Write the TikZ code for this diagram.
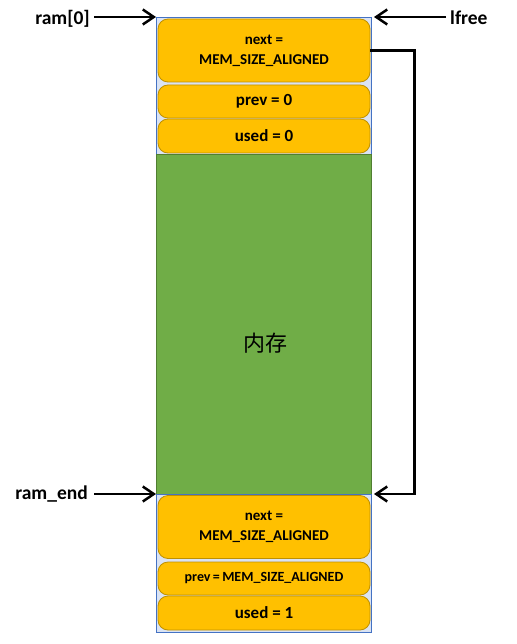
\documentclass[tikz,border=0pt]{standalone}
\usepackage{fontspec}
\setmainfont{Carlito}
\newfontfamily\cjk{Noto Sans CJK SC}
\usetikzlibrary{arrows.meta}
\definecolor{fieldfill}{HTML}{FFC000}
\definecolor{fielddraw}{HTML}{BF9000}
\definecolor{heapfill}{HTML}{70AD47}
\definecolor{heapdraw}{HTML}{507E32}
\definecolor{hdrfill}{HTML}{DAE3F3}
\definecolor{hdrdraw}{HTML}{4472C4}
\tikzset{
	hdr/.style={draw=hdrdraw, fill=hdrfill, line width=1pt, minimum width=215, anchor=north west, inner sep=0pt},
	field/.style={draw=fielddraw, fill=fieldfill, line width=.8pt, rounded corners=10pt, minimum width=212, inner sep=0pt, align=center, font=\bfseries},
	lbl/.style={inner sep=2pt, font=\fontsize{19.5}{20}\selectfont\bfseries},
	ptr/.style={line width=2.5pt, -{Straight Barb[length=11pt, width=15pt, line width=2.5pt]}}
}
\begin{document}
\begin{tikzpicture}[x=1pt, y=-1pt]
	\useasboundingbox (0,0) rectangle (516,644);
	% memory column
	\node[hdr, minimum height=137] (hdr0) at (156,17) {};
	\node[hdr, draw=heapdraw, fill=heapfill, minimum height=340] (heap) at (156,154) {};
	\node[hdr, minimum height=138] (hdr1) at (156,494) {};
	\node[font=\cjk\fontsize{22}{22}\selectfont] (heaptext) at (265,343) {内存};
	% first header
	\node[field, minimum height=63, font=\fontsize{15}{20}\selectfont\bfseries] (next0) at (264,50.5) {next =\\MEM\_SIZE\_ALIGNED};
	\node[field, minimum height=33, font=\fontsize{17}{17}\selectfont\bfseries] (prev0) at (264,101.5) {prev = 0};
	\node[field, minimum height=34, font=\fontsize{17}{17}\selectfont\bfseries] (used0) at (264,136) {used = 0};
	% end header
	\node[field, minimum height=63, font=\fontsize{15}{20}\selectfont\bfseries] (next1) at (264,527) {next =\\MEM\_SIZE\_ALIGNED};
	\node[field, minimum height=33, font=\fontsize{14}{14}\selectfont\bfseries] (prev1) at (264,578.5) {prev\,=\,MEM\_SIZE\_ALIGNED};
	\node[field, minimum height=34, font=\fontsize{17}{17}\selectfont\bfseries] (used1) at (264,613) {used = 1};
	% pointers
	\node[lbl, anchor=east] (ram0) at (92,19) {ram[0]};
	\node[lbl, anchor=west] (lfree) at (448,18) {lfree};
	\node[lbl, anchor=east] (ramend) at (90,494) {ram\_end};
	\draw[ptr, shorten <=2pt] (ram0.east |- hdr0.north west) -- (hdr0.north west);
	\draw[ptr, shorten <=2pt] (lfree.west |- hdr0.north east) -- ([xshift=2pt]hdr0.north east);
	\draw[ptr, shorten <=4pt] (ramend.east |- hdr1.north west) -- (hdr1.north west);
	\draw[ptr] (next0.east) -- ++(44,0) |- ([xshift=2pt]hdr1.north east);
\end{tikzpicture}
\end{document}
